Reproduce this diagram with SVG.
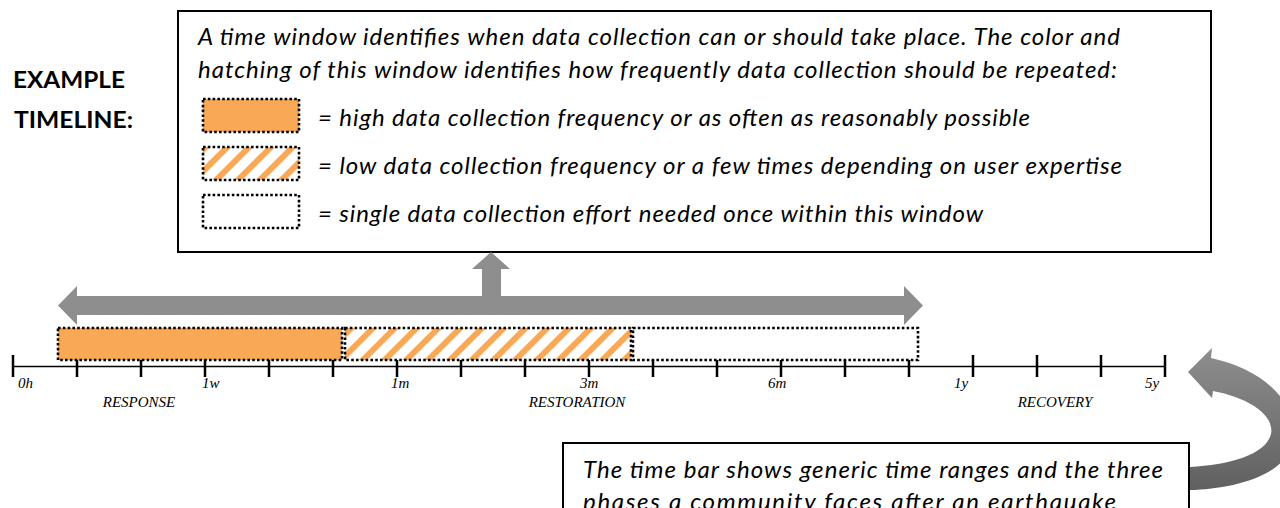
<svg xmlns="http://www.w3.org/2000/svg" width="1280" height="508" viewBox="0 0 1280 508">
  <defs>
    <pattern id="hatch" patternUnits="userSpaceOnUse" width="15.4" height="20" patternTransform="rotate(45)">
      <rect x="0" y="0" width="15.4" height="20" fill="#ffffff"/>
      <rect x="0" y="0" width="6" height="20" fill="#F9A856"/>
    </pattern>
    <linearGradient id="curveGrad" x1="0" y1="0" x2="0" y2="1">
      <stop offset="0" stop-color="#8E8E8E"/>
      <stop offset="1" stop-color="#606060"/>
    </linearGradient>
  </defs>
  <style>
    .box { fill: #ffffff; stroke: #000000; stroke-width: 2; }
    .win { stroke: #000000; stroke-width: 2.6; stroke-dasharray: 2.6 2.2; }
    .full { fill: #F9A856; }
    .hatched { fill: url(#hatch); }
    .single { fill: #ffffff; }
    .txt { font-family: Lato, "Open Sans", sans-serif; font-style: italic; font-size: 24px; fill: #000000; }
    .title { font-family: Lato, "Open Sans", sans-serif; font-weight: bold; font-size: 23px; fill: #000000; }
    .lbl { font-family: "Liberation Serif", serif; font-style: italic; font-size: 15px; fill: #000000; }
    .axis { stroke: #000000; stroke-width: 1.5; fill: none; }
    .tick { stroke: #000000; stroke-width: 2.5; }
    .gray { fill: #8E8E8E; }
  </style>

  <rect x="0" y="0" width="1280" height="508" fill="#ffffff"/>

  <g id="title">
    <text class="title" x="13" y="88" textLength="112" lengthAdjust="spacingAndGlyphs">EXAMPLE</text>
    <text class="title" x="14" y="128" textLength="119" lengthAdjust="spacingAndGlyphs">TIMELINE:</text>
  </g>

  <g id="legend">
    <rect class="box" x="178" y="11" width="1033" height="241"/>
    <text class="txt" x="198" y="45" textLength="922" lengthAdjust="spacing">A time window identifies when data collection can or should take place. The color and</text>
    <text class="txt" x="198" y="78" textLength="919" lengthAdjust="spacing">hatching of this window identifies how frequently data collection should be repeated:</text>
    <g id="legend-high">
      <rect class="win full" x="203" y="99" width="96" height="33"/>
      <text class="txt" x="318" y="126" textLength="712" lengthAdjust="spacing">= high data collection frequency or as often as reasonably possible</text>
    </g>
    <g id="legend-low">
      <rect class="win hatched" x="203" y="147" width="96" height="33"/>
      <text class="txt" x="318" y="174" textLength="804" lengthAdjust="spacing">= low data collection frequency or a few times depending on user expertise</text>
    </g>
    <g id="legend-single">
      <rect class="win single" x="203" y="195" width="96" height="33"/>
      <text class="txt" x="318" y="222" textLength="665" lengthAdjust="spacing">= single data collection effort needed once within this window</text>
    </g>
  </g>

  <g id="timeline">
    <line class="axis" x1="13" y1="366.5" x2="1165" y2="366.5"/>
    <g class="tick">
      <line x1="13" y1="355" x2="13" y2="377"/>
      <line x1="77" y1="355" x2="77" y2="377"/>
      <line x1="141" y1="355" x2="141" y2="377"/>
      <line x1="205" y1="355" x2="205" y2="377"/>
      <line x1="269" y1="355" x2="269" y2="377"/>
      <line x1="333" y1="355" x2="333" y2="377"/>
      <line x1="397" y1="355" x2="397" y2="377"/>
      <line x1="461" y1="355" x2="461" y2="377"/>
      <line x1="525" y1="355" x2="525" y2="377"/>
      <line x1="589" y1="355" x2="589" y2="377"/>
      <line x1="653" y1="355" x2="653" y2="377"/>
      <line x1="717" y1="355" x2="717" y2="377"/>
      <line x1="781" y1="355" x2="781" y2="377"/>
      <line x1="845" y1="355" x2="845" y2="377"/>
      <line x1="909" y1="355" x2="909" y2="377"/>
      <line x1="973" y1="355" x2="973" y2="377"/>
      <line x1="1037" y1="355" x2="1037" y2="377"/>
      <line x1="1101" y1="355" x2="1101" y2="377"/>
      <line x1="1165" y1="355" x2="1165" y2="377"/>
    </g>
    <text class="lbl" x="18" y="388">0h</text>
    <text class="lbl" x="202" y="388">1w</text>
    <text class="lbl" x="391" y="388">1m</text>
    <text class="lbl" x="580" y="388">3m</text>
    <text class="lbl" x="768" y="388">6m</text>
    <text class="lbl" x="954" y="388">1y</text>
    <text class="lbl" x="1145" y="388">5y</text>
    <text class="lbl" x="139" y="407" text-anchor="middle">RESPONSE</text>
    <text class="lbl" x="577" y="407" text-anchor="middle">RESTORATION</text>
    <text class="lbl" x="1055" y="407" text-anchor="middle">RECOVERY</text>
  </g>

  <g id="windows">
    <rect id="window-high" class="win full" x="58" y="328" width="284" height="32"/>
    <rect id="window-low" class="win hatched" x="345" y="328" width="286" height="32"/>
    <rect id="window-single" class="win single" x="633" y="328" width="285" height="32"/>
  </g>

  <g id="note">
    <rect class="box" x="563" y="443" width="626" height="90"/>
    <text class="txt" x="583" y="478" textLength="580" lengthAdjust="spacing">The time bar shows generic time ranges and the three</text>
    <text class="txt" x="583" y="510" textLength="533" lengthAdjust="spacing">phases a community faces after an earthquake</text>
  </g>

  <g id="connectors">
    <path class="gray" d="M58 305.5 L77 286 L77 296 L482 296 L482 269 L472 269 L491 252 L510 269 L501 269 L501 296 L904 296 L904 286 L923 305.5 L904 325 L904 315 L77 315 L77 325 Z"/>
    <path fill="url(#curveGrad)" d="M1188 372 L1212 348 L1211 358 C1258 368 1298 398 1293 440 C1288 476 1232 489 1190 490 L1190 467 C1228 465 1266 455 1271 434 C1275 414 1246 397 1213 391 L1212 398 Z"/>
  </g>
</svg>
